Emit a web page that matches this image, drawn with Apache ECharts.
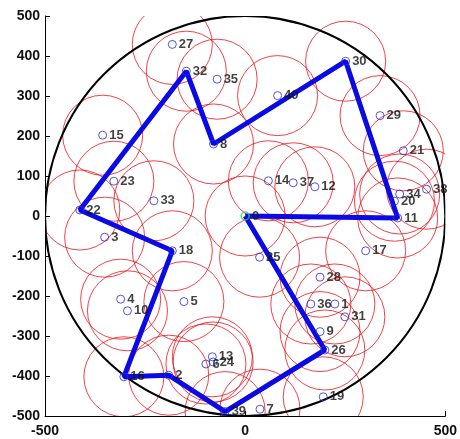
<!DOCTYPE html>
<html>
<head>
<meta charset="utf-8">
<script src="https://cdn.jsdelivr.net/npm/echarts@6/dist/echarts.min.js"></script>
<style>
  html, body { margin: 0; padding: 0; background: #fff; }
  #chart { width: 460px; height: 439px; }
</style>
</head>
<body>
<div id="chart"></div>
<script>
// Sensor node ids and positions (m); node 0 is the sink at the field centre
const nodeIds = [0, 1, 2, 3, 4, 5, 6, 7, 8, 9, 10, 11, 12, 13, 14, 15, 16, 17, 18, 19, 20,
                 21, 22, 23, 24, 25, 26, 27, 28, 29, 30, 31, 32, 33, 34, 35, 36, 37, 38, 39, 40];
const nodeX = [0, 224, -191, -351, -311, -153, -98, 37, -79, 187, -294, 381, 174, -82, 58, -356, -303, 301, -182, 195, 373,
               395, -413, -328, -80, 36, 199, -182, 187, 337, 251, 249, -147, -228, 386, -70, 164, 120, 453, -50, 81];
const nodeY = [0, -220, -398, -53, -208, -214, -370, -483, 180, -289, -237, -5, 73, -352, 88, 202, -402, -87, -87, -452, 37,
               163, 15, 87, -365, -103, -335, 429, -153, 251, 387, -252, 362, 38, 55, 342, -220, 83, 67, -489, 301];

// Order in which the mobile collector visits nodes
const tour = [0, 11, 30, 8, 32, 22, 18, 16, 2, 39, 26, 0];

// Communication range of each node and radius of the deployment field
const rangeRadius = 100;
const fieldRadius = 500;

// Axis ticks
const xTicks = [-500, 0, 500];
const yTicks = [-500, -400, -300, -200, -100, 0, 100, 200, 300, 400, 500];

const nodes = nodeIds.map((id, i) => [nodeX[i], nodeY[i], id]);
const rangeCircles = nodeIds.map((id, i) => [nodeX[i], nodeY[i], rangeRadius]);
const tourPath = tour.map(id => {
  const i = nodeIds.indexOf(id);
  return [nodeX[i], nodeY[i]];
});

function circleItem(stroke, width) {
  return function (params, api) {
    const c = api.coord([api.value(0), api.value(1)]);
    const s = api.size([api.value(2), api.value(2)]);
    const cs = params.coordSys;
    return {
      type: 'group',
      clipPath: { type: 'rect', shape: { x: cs.x, y: cs.y, width: cs.width, height: cs.height } },
      children: [{
        type: 'circle',
        shape: { cx: c[0], cy: c[1], r: (s[0] + s[1]) / 2 },
        style: { fill: 'none', stroke: stroke, lineWidth: width }
      }]
    };
  };
}

const labelFont = { fontFamily: 'Liberation Sans, Arial, sans-serif', fontWeight: 'bold', color: '#111' };

const chart = echarts.init(document.getElementById('chart'), null, { renderer: 'canvas' });
chart.setOption({
  animation: false,
  backgroundColor: '#ffffff',
  grid: { left: 45, top: 16, width: 401, height: 400, containLabel: false },
  xAxis: {
    type: 'value', min: -500, max: 500, interval: 500,
    axisLine: { show: true, onZero: false, lineStyle: { color: '#000', width: 1 } },
    axisTick: { show: true, inside: true, length: 5, lineStyle: { color: '#000' } },
    axisLabel: Object.assign({ fontSize: 14, margin: 8,
      formatter: v => xTicks.includes(v) ? String(v) : '' }, labelFont),
    splitLine: { show: false }
  },
  yAxis: {
    type: 'value', min: -500, max: 500, interval: 100,
    axisLine: { show: true, onZero: false, lineStyle: { color: '#000', width: 1 } },
    axisTick: { show: true, inside: true, length: 5, lineStyle: { color: '#000' } },
    axisLabel: Object.assign({ fontSize: 14, margin: 5,
      formatter: v => yTicks.includes(v) ? String(v) : '' }, labelFont),
    splitLine: { show: false }
  },
  series: [
    {
      // communication range of every node
      type: 'custom',
      renderItem: circleItem('#e8141c', 0.8),
      data: rangeCircles,
      z: 1,
      silent: true
    },
    {
      // boundary of the deployment field
      type: 'custom',
      renderItem: circleItem('#000000', 2),
      data: [[0, 0, fieldRadius]],
      z: 2,
      silent: true
    },
    {
      // collector tour
      type: 'line',
      data: tourPath,
      showSymbol: false,
      lineStyle: { color: '#0a0ae6', width: 5 },
      z: 3,
      silent: true
    },
    {
      // sensor nodes
      type: 'scatter',
      data: nodes.slice(1),
      symbol: 'circle',
      symbolSize: 8,
      itemStyle: { color: 'rgba(0,0,0,0)', borderColor: '#2b2bd6', borderWidth: 1 },
      label: Object.assign({ show: true, position: 'right', distance: 2, fontSize: 13,
        formatter: p => String(p.value[2]) }, labelFont),
      z: 4
    },
    {
      // sink
      type: 'scatter',
      data: nodes.slice(0, 1),
      symbol: 'circle',
      symbolSize: 8,
      itemStyle: { color: 'rgba(0,0,0,0)', borderColor: '#33cc66', borderWidth: 1.5 },
      label: Object.assign({ show: true, position: 'right', distance: 2, fontSize: 13,
        formatter: p => String(p.value[2]) }, labelFont),
      z: 5
    }
  ]
});
</script>
</body>
</html>
